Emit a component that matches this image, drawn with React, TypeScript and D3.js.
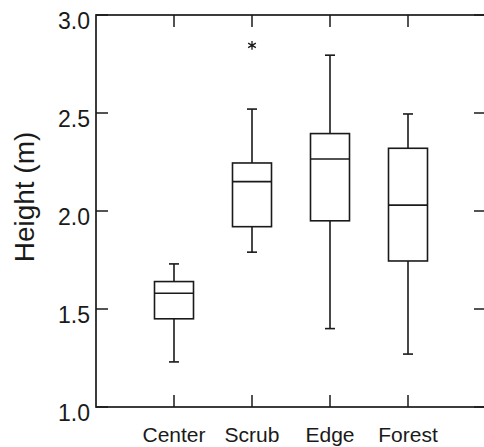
import React, { useEffect, useRef } from 'react';
import * as d3 from 'd3';

const categories = ['Center', 'Scrub', 'Edge', 'Forest'];
const whiskerLow = [1.23, 1.79, 1.40, 1.27];
const quartile1 = [1.45, 1.92, 1.95, 1.745];
const medians = [1.58, 2.15, 2.265, 2.03];
const quartile3 = [1.64, 2.245, 2.395, 2.32];
const whiskerHigh = [1.73, 2.52, 2.795, 2.495];
const outliers = [{ cat: 'Scrub', value: 2.845 }];
const yTicks = [1.0, 1.5, 2.0, 2.5, 3.0];

const App = () => {
    const ref = useRef(null);

    useEffect(() => {
        // the right edge of the frame sits just past the picture
        const margin = { top: 15, right: -2, bottom: 40, left: 96 },
            svgWidth = 484,
            svgHeight = 447,
            width = svgWidth - margin.left - margin.right,
            height = svgHeight - margin.top - margin.bottom;
        const ink = '#1a1a1a';
        const font = 'Liberation Sans, Arial, sans-serif';

        const svg = d3.select(ref.current);
        svg.selectAll('*').remove();
        svg.attr('width', svgWidth).attr('height', svgHeight);

        const chart = svg.append('g')
            .attr('transform', `translate(${margin.left},${margin.top})`);

        const x = d3.scalePoint()
            .domain(categories)
            .range([0, width])
            .padding(1);

        const y = d3.scaleLinear()
            .domain([1.0, 3.0])
            .range([height, 0]);

        // frame
        chart.append('rect')
            .attr('x', 0).attr('y', 0)
            .attr('width', width).attr('height', height)
            .attr('fill', 'none')
            .attr('stroke', ink)
            .attr('stroke-width', 1.7);

        // inward ticks on all four sides
        yTicks.forEach(t => {
            chart.append('line')
                .attr('x1', 0).attr('x2', 12)
                .attr('y1', y(t)).attr('y2', y(t))
                .attr('stroke', ink).attr('stroke-width', 1.5);
            chart.append('line')
                .attr('x1', width - 12).attr('x2', width)
                .attr('y1', y(t)).attr('y2', y(t))
                .attr('stroke', ink).attr('stroke-width', 1.5);
            chart.append('text')
                .attr('x', -6)
                .attr('y', y(t) + 14)
                .attr('text-anchor', 'end')
                .attr('fill', ink)
                .style('font-family', font)
                .style('font-size', '23px')
                .text(t.toFixed(1));
        });

        categories.forEach(c => {
            chart.append('line')
                .attr('x1', x(c)).attr('x2', x(c))
                .attr('y1', 0).attr('y2', 12)
                .attr('stroke', ink).attr('stroke-width', 1.5);
            chart.append('line')
                .attr('x1', x(c)).attr('x2', x(c))
                .attr('y1', height - 12).attr('y2', height)
                .attr('stroke', ink).attr('stroke-width', 1.5);
            chart.append('text')
                .attr('x', x(c))
                .attr('y', height + 35)
                .attr('text-anchor', 'middle')
                .attr('fill', ink)
                .style('font-family', font)
                .style('font-size', '21px')
                .text(c);
        });

        // boxes
        const boxW = 39, capW = 10;
        categories.forEach((c, i) => {
            const cx = x(c);
            const g = chart.append('g')
                .attr('stroke', ink)
                .attr('stroke-width', 1.6)
                .attr('fill', 'none');
            // whiskers
            g.append('line')
                .attr('x1', cx).attr('x2', cx)
                .attr('y1', y(quartile3[i])).attr('y2', y(whiskerHigh[i]));
            g.append('line')
                .attr('x1', cx).attr('x2', cx)
                .attr('y1', y(quartile1[i])).attr('y2', y(whiskerLow[i]));
            g.append('line')
                .attr('x1', cx - capW / 2).attr('x2', cx + capW / 2)
                .attr('y1', y(whiskerHigh[i])).attr('y2', y(whiskerHigh[i]));
            g.append('line')
                .attr('x1', cx - capW / 2).attr('x2', cx + capW / 2)
                .attr('y1', y(whiskerLow[i])).attr('y2', y(whiskerLow[i]));
            g.append('rect')
                .attr('x', cx - boxW / 2)
                .attr('y', y(quartile3[i]))
                .attr('width', boxW)
                .attr('height', y(quartile1[i]) - y(quartile3[i]))
                .attr('fill', '#fff');
            g.append('line')
                .attr('x1', cx - boxW / 2).attr('x2', cx + boxW / 2)
                .attr('y1', y(medians[i])).attr('y2', y(medians[i]));
        });

        // outliers drawn as asterisks
        outliers.forEach(o => {
            chart.append('path')
                .attr('transform', `translate(${x(o.cat)},${y(o.value)})`)
                .attr('d', d3.symbol(d3.symbolAsterisk, 55)())
                .attr('fill', 'none')
                .attr('stroke', ink)
                .attr('stroke-width', 1.3);
        });

        svg.append('text')
            .attr('transform', `translate(34,${margin.top + y(2.0) - 14}) rotate(-90)`)
            .attr('text-anchor', 'middle')
            .attr('fill', ink)
            .style('font-family', font)
            .style('font-size', '28px')
            .text('Height (m)');
    }, []);

    return (
        <svg
            ref={ref}
            style={{ position: 'absolute', left: 0, top: 0, display: 'block', background: '#fff' }}
        />
    );
};

export default App;
